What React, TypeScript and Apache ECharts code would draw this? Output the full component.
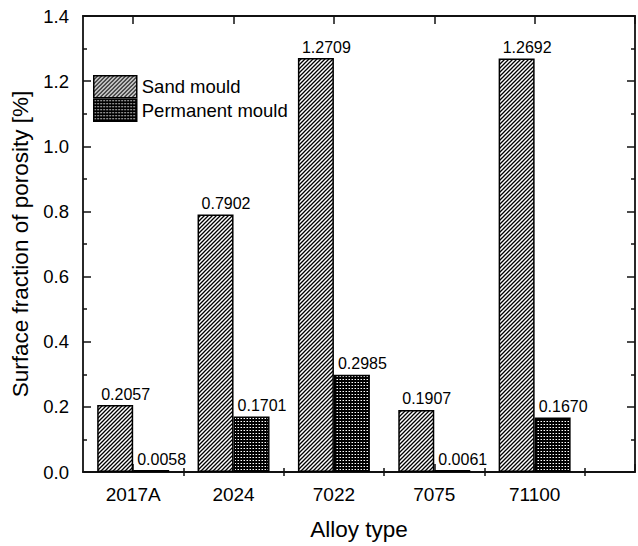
import React, { useEffect, useRef } from 'react';
import * as echarts from 'echarts';

const categories = ['2017A', '2024', '7022', '7075', '71100'];
const sandMould = [0.2057, 0.7902, 1.2709, 0.1907, 1.2692];
const permanentMould = [0.0058, 0.1701, 0.2985, 0.0061, 0.167];
const categoryPositions = [1, 2, 3, 4, 5];
const majorXTicks = [1, 2, 3, 4, 5, 6];
const minorXTicks = [1.5, 2.5, 3.5, 4.5, 5.5];
const seriesNames = ['Sand mould', 'Permanent mould'];

const FONT = '"Liberation Sans", Arial, Helvetica, sans-serif';
const AXIS_COLOR = '#111';

function makeHatch(): HTMLCanvasElement {
  const c = document.createElement('canvas');
  c.width = 4;
  c.height = 4;
  const ctx = c.getContext('2d')!;
  ctx.fillStyle = '#fff';
  ctx.fillRect(0, 0, 4, 4);
  ctx.strokeStyle = '#000';
  ctx.lineWidth = 1.3;
  ctx.beginPath();
  ctx.moveTo(-1, 5);
  ctx.lineTo(5, -1);
  ctx.moveTo(-1, 1);
  ctx.lineTo(1, -1);
  ctx.moveTo(3, 5);
  ctx.lineTo(5, 3);
  ctx.stroke();
  return c;
}

function makeDots(): HTMLCanvasElement {
  const c = document.createElement('canvas');
  c.width = 3;
  c.height = 3;
  const ctx = c.getContext('2d')!;
  ctx.fillStyle = '#000';
  ctx.fillRect(0, 0, 3, 3);
  ctx.fillStyle = '#fff';
  ctx.fillRect(1, 1, 1, 1);
  ctx.fillStyle = '#777';
  ctx.fillRect(0, 1, 1, 1);
  return c;
}

export default function App() {
  const ref = useRef<HTMLDivElement>(null);

  useEffect(() => {
    if (!ref.current) return;
    const chart = echarts.init(ref.current, undefined, { renderer: 'svg' });

    const hatch = { image: makeHatch(), repeat: 'repeat' } as any;
    const dots = { image: makeDots(), repeat: 'repeat' } as any;

    const tickAxisBase = {
      type: 'value' as const,
      min: 0.5,
      max: 6,
      splitLine: { show: false },
    };

    const labelCommon = {
      show: true,
      position: [4, -3],
      align: 'left',
      verticalAlign: 'bottom',
      fontSize: 16,
      color: '#000',
      fontFamily: FONT,
      formatter: (p: any) => Number(p.value[1]).toFixed(4),
    };

    chart.setOption({
      animation: false,
      backgroundColor: '#fff',
      textStyle: { fontFamily: FONT, color: '#000' },
      grid: { left: 83, right: 3, top: 16, bottom: 72 },
      legend: {
        data: seriesNames,
        orient: 'vertical',
        left: 88,
        top: 70,
        itemWidth: 43,
        itemHeight: 22,
        itemGap: 0,
        icon: 'rect',
        itemStyle: { borderColor: '#000', borderWidth: 1.5 },
        textStyle: { fontSize: 18.5, color: '#000', fontFamily: FONT },
      },
      xAxis: [
        {
          ...tickAxisBase,
          position: 'bottom',
          name: 'Alloy type',
          nameLocation: 'middle',
          nameGap: 46,
          nameTextStyle: { fontSize: 22.5, color: '#000', fontFamily: FONT },
          axisLine: { show: true, onZero: false, lineStyle: { color: AXIS_COLOR, width: 1.8 } },
          axisTick: {
            show: true,
            inside: true,
            length: 8,
            customValues: majorXTicks,
            lineStyle: { color: AXIS_COLOR, width: 1.5 },
          },
          axisLabel: {
            show: true,
            customValues: categoryPositions,
            margin: 13,
            fontSize: 19,
            color: '#000',
            fontFamily: FONT,
            formatter: (v: number) => {
              const i = categoryPositions.indexOf(Math.round(v));
              return i >= 0 && Math.abs(v - Math.round(v)) < 1e-6 ? categories[i] : '';
            },
          },
        },
        {
          ...tickAxisBase,
          position: 'bottom',
          axisLine: { show: false },
          axisTick: {
            show: true,
            inside: true,
            length: 4,
            customValues: minorXTicks,
            lineStyle: { color: AXIS_COLOR, width: 1.5 },
          },
          axisLabel: { show: false },
        },
        {
          ...tickAxisBase,
          position: 'top',
          axisLine: { show: true, onZero: false, lineStyle: { color: AXIS_COLOR, width: 1.8 } },
          axisTick: {
            show: true,
            inside: true,
            length: 8,
            customValues: majorXTicks,
            lineStyle: { color: AXIS_COLOR, width: 1.5 },
          },
          axisLabel: { show: false },
        },
        {
          ...tickAxisBase,
          position: 'top',
          axisLine: { show: false },
          axisTick: {
            show: true,
            inside: true,
            length: 4,
            customValues: minorXTicks,
            lineStyle: { color: AXIS_COLOR, width: 1.5 },
          },
          axisLabel: { show: false },
        },
      ],
      yAxis: [
        {
          type: 'value',
          position: 'left',
          min: 0,
          max: 1.4,
          interval: 0.2,
          name: 'Surface fraction of porosity [%]',
          nameLocation: 'middle',
          nameGap: 48,
          nameTextStyle: { fontSize: 22.5, color: '#000', fontFamily: FONT },
          splitLine: { show: false },
          axisLine: { show: true, onZero: false, lineStyle: { color: AXIS_COLOR, width: 1.8 } },
          axisTick: { show: true, inside: true, length: 8, lineStyle: { color: AXIS_COLOR, width: 1.5 } },
          minorTick: { show: true, splitNumber: 2, length: 4, lineStyle: { color: AXIS_COLOR, width: 1.5 } },
          axisLabel: {
            margin: 14,
            fontSize: 18.5,
            color: '#000',
            fontFamily: FONT,
            formatter: (v: number) => v.toFixed(1),
          },
        },
        {
          type: 'value',
          position: 'right',
          min: 0,
          max: 1.4,
          interval: 0.2,
          splitLine: { show: false },
          axisLine: { show: true, onZero: false, lineStyle: { color: AXIS_COLOR, width: 1.8 } },
          axisTick: { show: true, inside: true, length: 8, lineStyle: { color: AXIS_COLOR, width: 1.5 } },
          minorTick: { show: true, splitNumber: 2, length: 4, lineStyle: { color: AXIS_COLOR, width: 1.5 } },
          axisLabel: { show: false },
        },
      ],
      series: [
        {
          name: seriesNames[0],
          type: 'bar',
          xAxisIndex: 0,
          yAxisIndex: 0,
          barWidth: 36,
          barGap: '0%',
          data: categoryPositions.map((x, i) => [x, sandMould[i]]),
          itemStyle: { color: hatch, borderColor: '#000', borderWidth: 1.5 },
          label: labelCommon,
        },
        {
          name: seriesNames[1],
          type: 'bar',
          xAxisIndex: 0,
          yAxisIndex: 0,
          barWidth: 36,
          barGap: '0%',
          data: categoryPositions.map((x, i) => [x, permanentMould[i]]),
          itemStyle: { color: dots, borderColor: '#000', borderWidth: 1.5 },
          label: labelCommon,
        },
      ],
    });

    return () => chart.dispose();
  }, []);

  return (
    <div
      ref={ref}
      style={{ position: 'fixed', left: 0, top: 0, width: 638, height: 546, background: '#fff' }}
    />
  );
}
